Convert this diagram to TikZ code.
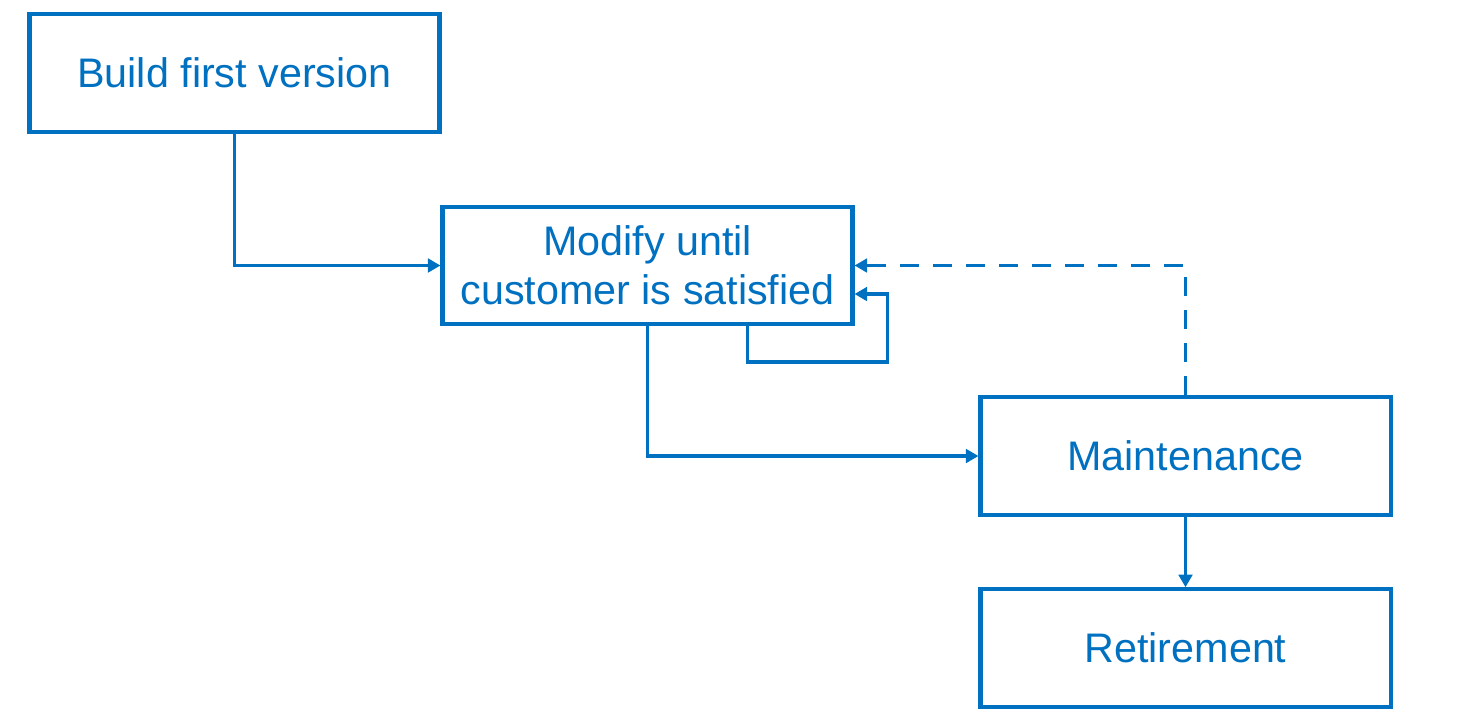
\documentclass[tikz,border=0pt]{standalone}
\usepackage{fontspec}
\setmainfont{Liberation Sans}
\usetikzlibrary{arrows.meta}
\definecolor{lineblue}{HTML}{0070C0}
\tikzset{
  stage/.style={draw=lineblue, line width=2.3pt, text=lineblue, minimum width=8.2cm,
    minimum height=2.35cm, align=center, inner sep=0pt,
    font=\fontsize{23.5}{28}\selectfont},
  link/.style={draw=lineblue, line width=2.2pt, -{Triangle[length=0.25cm, width=0.27cm]}},
  backlink/.style={link, dash pattern=on 0.38cm off 0.28cm}
}
\begin{document}
\begin{tikzpicture}
        \useasboundingbox (0,0) rectangle (29.16,-14.48);
        \node[stage] (build) at (4.69,-1.46) {Build first version};
        \node[stage] (modify) at (12.95,-5.31) {Modify until\\customer is satisfied};
        \node[stage] (maint) at (23.71,-9.12) {Maintenance};
        \node[stage] (retire) at (23.71,-12.96) {Retirement};
        \draw[link] (build.south) |- (modify.west);
        \draw[link] (modify.south) |- (maint.west);
        \draw[link] ([xshift=2cm]modify.south) |- ++(2.8,-0.72) |- ([yshift=-0.57cm]modify.east);
        \draw[backlink] (maint.north) |- (modify.east);
        \draw[link] (maint) -- (retire);
      \end{tikzpicture}
\end{document}
